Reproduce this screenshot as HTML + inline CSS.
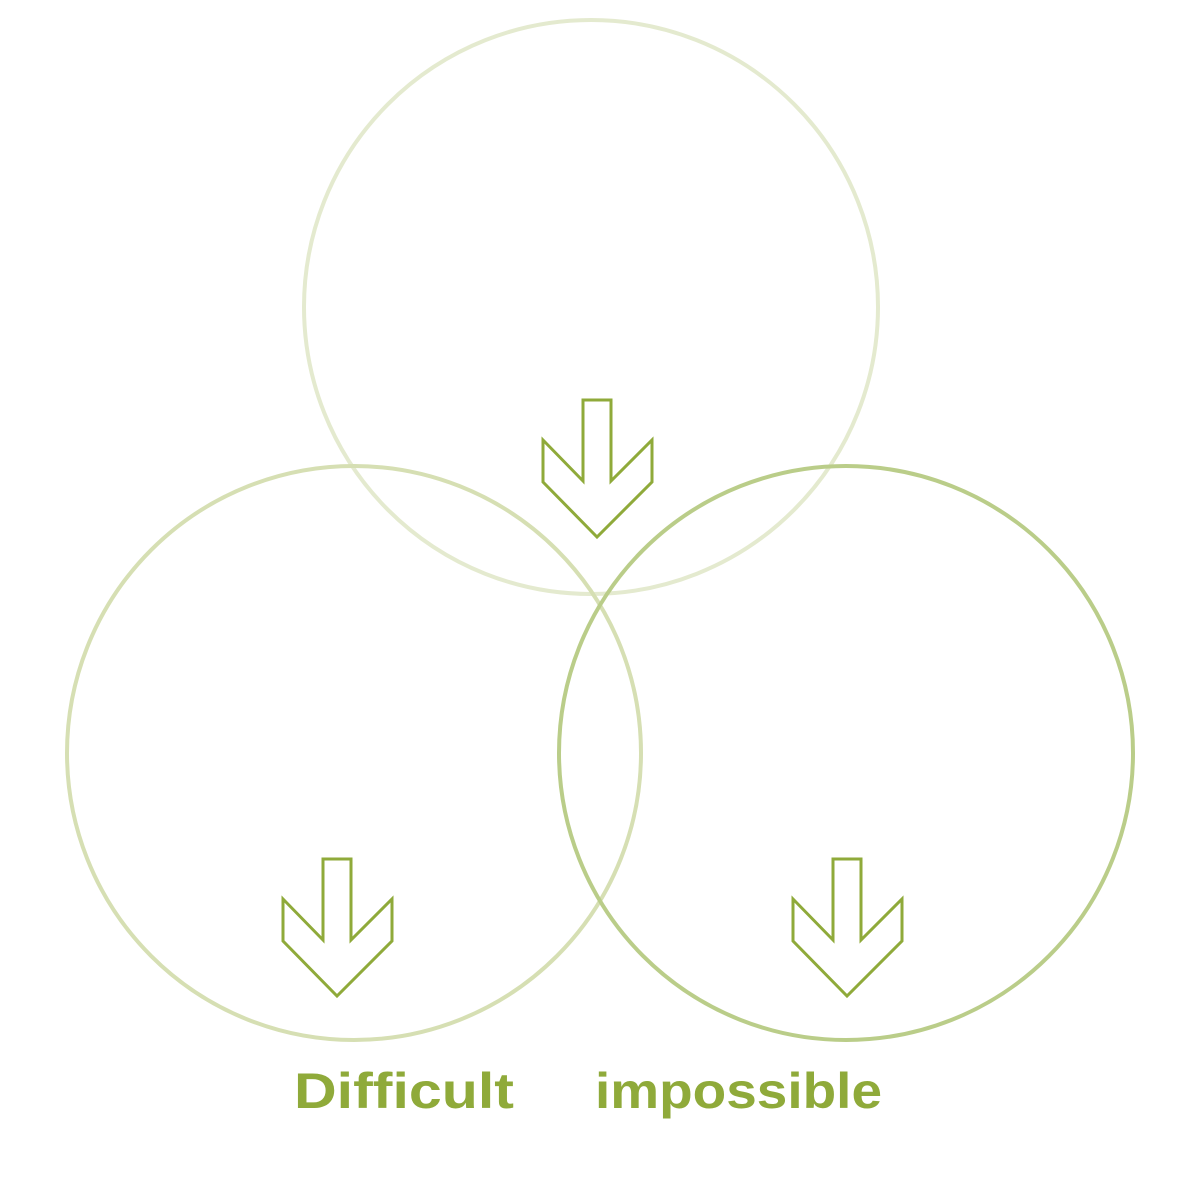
<!DOCTYPE html>
<html><head><meta charset="utf-8"><style>html,body{margin:0;padding:0;background:#fff;width:1200px;height:1200px;overflow:hidden}</style></head>
<body>
<svg width="1200" height="1200" viewBox="0 0 1200 1200" xmlns="http://www.w3.org/2000/svg">
<circle cx="591" cy="307" r="287" fill="none" stroke="#e4eacf" stroke-width="4"/>
<circle cx="354" cy="753" r="287" fill="none" stroke="#d6dfb3" stroke-width="4"/>
<circle cx="846" cy="753" r="287" fill="none" stroke="#bacd89" stroke-width="4"/>
<g fill="#fff" stroke="#8faa3a" stroke-width="3">
<polygon points="583,400 611,400 611,481 652,440 652,482 597,537 543,482 543,440 583,481"/>
<polygon points="323,859 351,859 351,940 392,899 392,941 337,996 283,941 283,899 323,940"/>
<polygon points="833,859 861,859 861,940 902,899 902,941 847,996 793,941 793,899 833,940"/>
</g>
<g fill="#8faa3a" font-family="Liberation Sans, sans-serif" font-weight="bold" font-size="50">
<text x="294" y="1108" textLength="220" lengthAdjust="spacingAndGlyphs">Difficult</text>
<text x="595" y="1108" textLength="287" lengthAdjust="spacingAndGlyphs">impossible</text>
</g>
</svg>
</body></html>
